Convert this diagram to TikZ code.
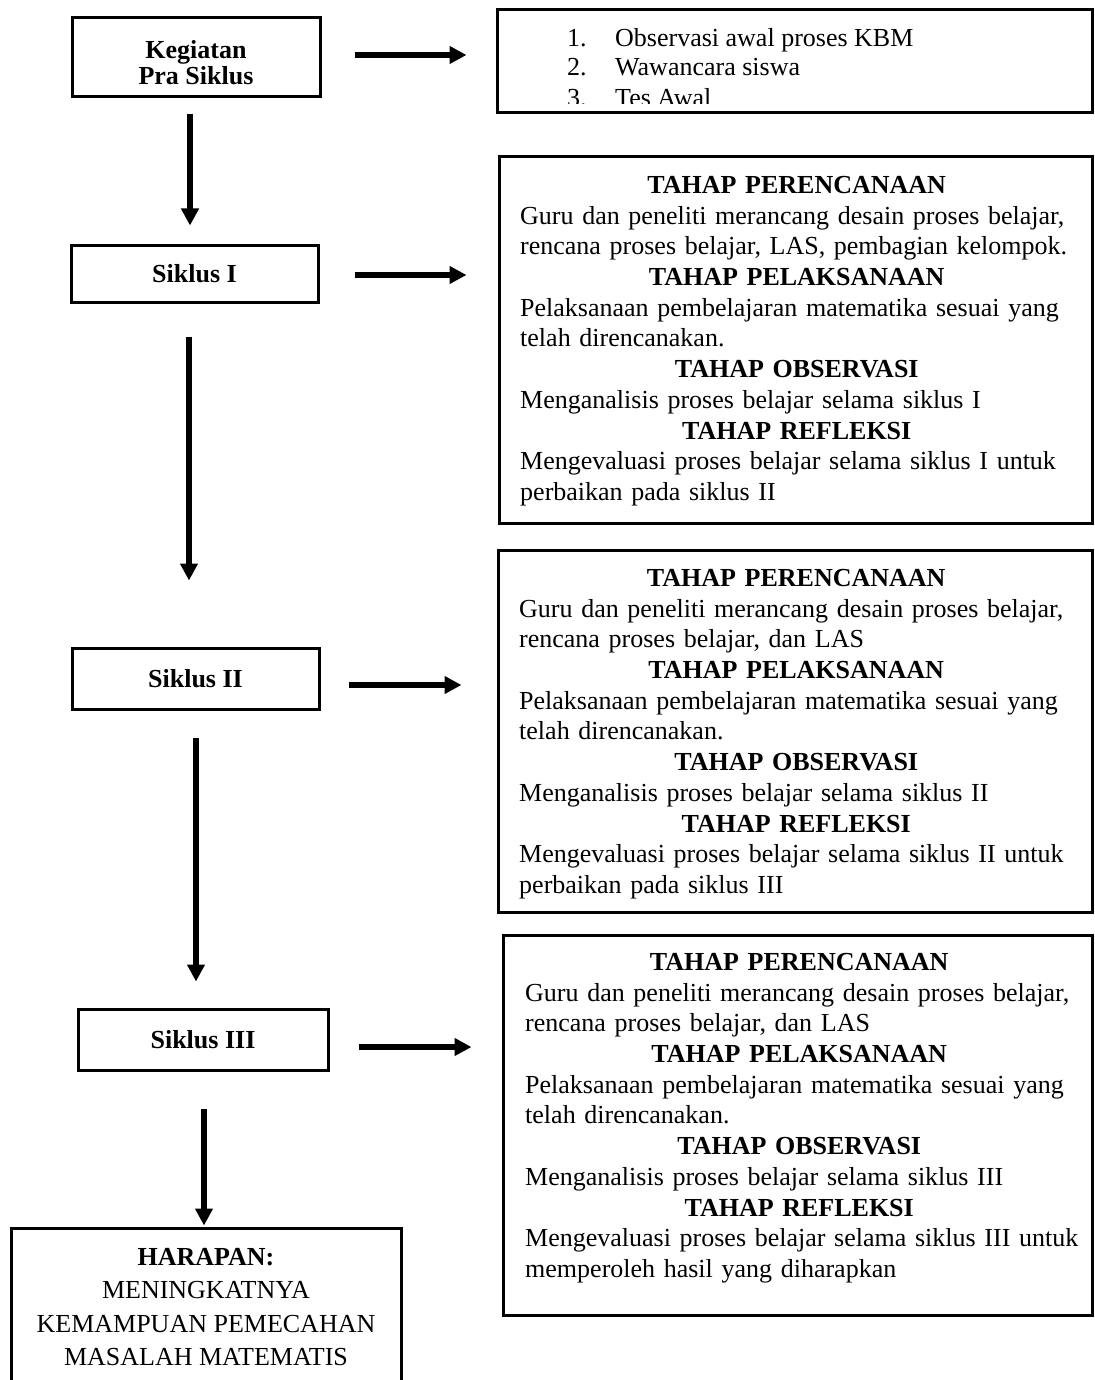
\documentclass[tikz,border=0pt]{standalone}
\usepackage{fontspec}
\setmainfont{Liberation Serif}
\usetikzlibrary{arrows.meta}
\newcommand{\fullrow}[1]{\makebox[\linewidth][s]{#1}}
\newcommand{\leftrow}[1]{\makebox[\linewidth][l]{#1}}
\newcommand{\tahap}[1]{\textbf{#1}}
\tikzset{
  lbox/.style={draw, line width=3pt, inner sep=0pt, align=center,
    font=\fontsize{26}{26}\selectfont\bfseries},
  frame/.style={draw, line width=3pt, inner sep=0pt},
  detail/.style={inner sep=0pt, anchor=north west, align=center,
    font=\fontsize{26}{30.7}\selectfont},
  flow/.style={line width=5.5pt, -{Triangle[width=17pt,length=17pt]}}
}
\begin{document}
\begin{tikzpicture}[x=1pt,y=-1pt]
    \useasboundingbox (0,0) rectangle (1094,1380);
    \node[lbox, minimum width=248pt, minimum height=79pt] (pra) at (196,57.5) {\rule{0pt}{29pt}Kegiatan\\Pra Siklus};
    \node[lbox, minimum width=247pt, minimum height=56pt] (s1) at (194.5,274) {Siklus I};
    \node[lbox, minimum width=247pt, minimum height=61pt] (s2) at (195.5,678.5) {Siklus II};
    \node[lbox, minimum width=250pt, minimum height=61pt] (s3) at (203,1039.5) {Siklus III};
    \node[frame, minimum width=390pt, minimum height=180pt] (hp) at (206,1318) {};
    \node[inner sep=0pt, anchor=north, align=center, font=\fontsize{26}{33.5}\selectfont] (hpt) at (206,1248)
        {\textbf{HARAPAN:}\\MENINGKATNYA\\KEMAMPUAN PEMECAHAN\\MASALAH MATEMATIS};

    \node[frame, minimum width=595pt, minimum height=103pt] (fa) at (794.5,61.5) {};
    \node[frame, minimum width=593pt, minimum height=366pt] (fb) at (795.5,340) {};
    \node[frame, minimum width=594pt, minimum height=362pt] (fc) at (795,731) {};
    \node[frame, minimum width=589pt, minimum height=380pt] (fd) at (797.5,1125) {};

    \begin{scope}
        \clip (fa.north west) rectangle ([yshift=11pt]fa.south east);
        \node[detail, align=left, font=\fontsize{26}{29}\selectfont] (ta) at (567,28)
            {\makebox[48pt][l]{1.}Observasi awal proses KBM\\
             \makebox[48pt][l]{2.}Wawancara siswa\\[2pt]
             \makebox[48pt][l]{3.}Tes Awal};
    \end{scope}
    \node[detail, text width=553pt] (tb) at (520,176) {\tahap{TAHAP PERENCANAAN}\\
        \fullrow{Guru dan peneliti merancang desain proses belajar,}\\
        \fullrow{rencana proses belajar, LAS, pembagian kelompok.}\\
        \tahap{TAHAP PELAKSANAAN}\\
        \fullrow{Pelaksanaan pembelajaran matematika sesuai yang}\\
        \leftrow{telah direncanakan.}\\
        \tahap{TAHAP OBSERVASI}\\
        \leftrow{Menganalisis proses belajar selama siklus I}\\
        \tahap{TAHAP REFLEKSI}\\
        \fullrow{Mengevaluasi proses belajar selama siklus I untuk}\\
        \leftrow{perbaikan pada siklus II}};
    \node[detail, text width=554pt] (tc) at (519,569) {\tahap{TAHAP PERENCANAAN}\\
        \fullrow{Guru dan peneliti merancang desain proses belajar,}\\
        \leftrow{rencana proses belajar, dan LAS}\\
        \tahap{TAHAP PELAKSANAAN}\\
        \fullrow{Pelaksanaan pembelajaran matematika sesuai yang}\\
        \leftrow{telah direncanakan.}\\
        \tahap{TAHAP OBSERVASI}\\
        \leftrow{Menganalisis proses belajar selama siklus II}\\
        \tahap{TAHAP REFLEKSI}\\
        \fullrow{Mengevaluasi proses belajar selama siklus II untuk}\\
        \leftrow{perbaikan pada siklus III}};
    \node[detail, text width=548pt] (td) at (525,953) {\tahap{TAHAP PERENCANAAN}\\
        \fullrow{Guru dan peneliti merancang desain proses belajar,}\\
        \leftrow{rencana proses belajar, dan LAS}\\
        \tahap{TAHAP PELAKSANAAN}\\
        \fullrow{Pelaksanaan pembelajaran matematika sesuai yang}\\
        \leftrow{telah direncanakan.}\\
        \tahap{TAHAP OBSERVASI}\\
        \leftrow{Menganalisis proses belajar selama siklus III}\\
        \tahap{TAHAP REFLEKSI}\\
        \fullrow{Mengevaluasi proses belajar selama siklus III untuk}\\
        \leftrow{memperoleh hasil yang diharapkan}};

    \draw[flow, shorten <=16pt, shorten >=19pt] ([xshift=-6pt]pra.south) -- ([xshift=-6pt]pra.south |- s1.north);
    \draw[flow, shorten <=33pt, shorten >=66pt] ([xshift=-5.5pt]s1.south) -- ([xshift=-5.5pt]s1.south |- s2.north);
    \draw[flow, shorten <=27pt, shorten >=26pt] ([xshift=.5pt]s2.south) -- ([xshift=.5pt]s2.south |- s3.north);
    \draw[flow, shorten <=37pt, shorten >=1pt] ([xshift=1pt]s3.south) -- ([xshift=1pt]s3.south |- hp.north);

    \draw[flow, shorten <=33pt, shorten >=29pt] ([yshift=2.5pt]pra.east) -- ([yshift=2.5pt]pra.east -| fa.west);
    \draw[flow, shorten <=35pt, shorten >=31pt] ([yshift=-1pt]s1.east) -- ([yshift=-1pt]s1.east -| fb.west);
    \draw[flow, shorten <=28pt, shorten >=35pt] ([yshift=-6.5pt]s2.east) -- ([yshift=-6.5pt]s2.east -| fc.west);
    \draw[flow, shorten <=29pt, shorten >=30pt] ([yshift=-7.5pt]s3.east) -- ([yshift=-7.5pt]s3.east -| fd.west);
\end{tikzpicture}
\end{document}
